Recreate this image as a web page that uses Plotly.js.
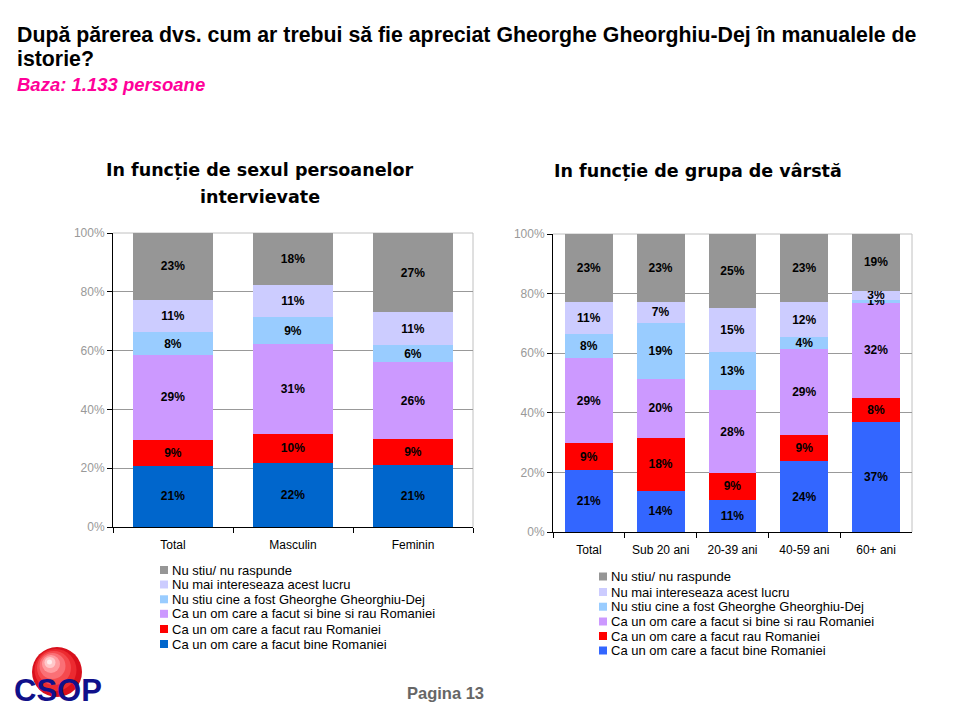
<!DOCTYPE html>
<html>
<head>
<meta charset="utf-8">
<script src="https://cdn.plot.ly/plotly-3.0.1.min.js"></script>
<style>
  html, body { margin: 0; padding: 0; background: #ffffff; }
  #chart { width: 960px; height: 720px; }
</style>
</head>
<body>
<div id="chart"></div>
<script>
// ---------------- DATA ----------------
const leftCategories = ['Total', 'Masculin', 'Feminin'];
const rightCategories = ['Total', 'Sub 20 ani', '20-39 ani', '40-59 ani', '60+ ani'];

const seriesNames = [
  'Ca un om care a facut bine Romaniei',
  'Ca un om care a facut rau Romaniei',
  'Ca un om care a facut si bine si rau Romaniei',
  'Nu stiu cine a fost Gheorghe Gheorghiu-Dej',
  'Nu mai intereseaza acest lucru',
  'Nu stiu/ nu raspunde'
];

// left chart (by sex)
const leftBine          = [21, 22, 21];
const leftRau           = [9, 10, 9];
const leftSiBineSiRau   = [29, 31, 26];
const leftNuStiuCine    = [8, 9, 6];
const leftNuMaiIntereseaza = [11, 11, 11];
const leftNsNr          = [23, 18, 27];

// right chart (by age group)
const rightBine          = [21, 14, 11, 24, 37];
const rightRau           = [9, 18, 9, 9, 8];
const rightSiBineSiRau   = [29, 20, 28, 29, 32];
const rightNuStiuCine    = [8, 19, 13, 4, 1];
const rightNuMaiIntereseaza = [11, 7, 15, 12, 3];
const rightNsNr          = [23, 23, 25, 23, 19];

const yTickValues = [0, 20, 40, 60, 80, 100];
const yTickLabels = ['0%', '20%', '40%', '60%', '80%', '100%'];

const titleLine1 = 'După părerea dvs. cum ar trebui să fie apreciat Gheorghe Gheorghiu-Dej în manualele de';
const titleLine2 = 'istorie?';
const baseText = 'Baza: 1.133 persoane';
const leftTitle1 = 'In funcție de sexul persoanelor';
const leftTitle2 = 'intervievate';
const rightTitle = 'In funcție de grupa de vârstă';
const pageText = 'Pagina 13';
const logoText = 'CSOP';

// ---------------- STYLE ----------------
const leftColors  = ['#0066CC', '#FF0000', '#CC99FF', '#99CCFF', '#CCCCFF', '#969696'];
const rightColors = ['#3366FF', '#FF0000', '#CC99FF', '#99CCFF', '#CCCCFF', '#969696'];
const FONT = 'Liberation Sans, Arial, sans-serif';
const W = 960, H = 720;
const px = x => x / W;
const py = y => 1 - y / H;

const leftSeries  = [leftBine, leftRau, leftSiBineSiRau, leftNuStiuCine, leftNuMaiIntereseaza, leftNsNr];
const rightSeries = [rightBine, rightRau, rightSiBineSiRau, rightNuStiuCine, rightNuMaiIntereseaza, rightNsNr];

function makeTraces(cats, series, colors, xa, ya) {
  return series.map((vals, i) => ({
    type: 'bar',
    name: seriesNames[i],
    x: cats,
    y: vals,
    xaxis: xa,
    yaxis: ya,
    marker: { color: colors[i], line: { width: 0 } },
    text: vals.map(v => v + '%'),
    textposition: 'inside',
    insidetextanchor: 'middle',
    constraintext: 'none',
    textangle: 0,
    textfont: { family: FONT, size: 12, color: '#000000', weight: 'bold' },
    showlegend: false,
    hoverinfo: 'skip',
    cliponaxis: false
  }));
}

const data = [].concat(
  makeTraces(leftCategories, leftSeries, leftColors, 'x', 'y'),
  makeTraces(rightCategories, rightSeries, rightColors, 'x2', 'y2')
);

function xAxis(domain, anchor) {
  return {
    domain: domain, anchor: anchor, type: 'category',
    showline: true, linecolor: '#000000', linewidth: 1,
    ticks: 'outside', tickson: 'boundaries', ticklen: 5, tickcolor: '#000000', tickwidth: 1,
    ticklabelstandoff: 7,
    showgrid: false, zeroline: false,
    tickfont: { family: FONT, size: 12, color: '#000000' },
    fixedrange: true
  };
}
function yAxis(domain, anchor) {
  return {
    domain: domain, anchor: anchor, range: [0, 100],
    tickvals: yTickValues, ticktext: yTickLabels,
    showline: true, linecolor: '#000000', linewidth: 1,
    ticks: 'outside', ticklen: 5, tickcolor: '#000000', tickwidth: 1,
    showgrid: true, gridcolor: '#999999', gridwidth: 1, zeroline: false,
    tickfont: { family: FONT, size: 12, color: '#999999' },
    fixedrange: true
  };
}

const leftDomX = [px(113), px(473)], leftDomY = [py(527), py(233)];
const rightDomX = [px(553), px(912)], rightDomY = [py(532), py(234)];

const annotations = [];
function addText(text, x, y, size, opts) {
  annotations.push(Object.assign({
    text: text, xref: 'paper', yref: 'paper', x: px(x), y: py(y),
    xanchor: 'left', yanchor: 'middle', showarrow: false,
    font: { family: FONT, size: size, color: '#000000' }
  }, opts || {}));
}
addText(titleLine1, 15, 34.5, 21.3, { font: { family: FONT, size: 21.3, color: '#000000', weight: 'bold' } });
addText(titleLine2, 15, 58.5, 21.3, { font: { family: FONT, size: 21.3, color: '#000000', weight: 'bold' } });
addText(baseText, 15, 84, 18.5, { font: { family: FONT, size: 18.5, color: '#FF0099', weight: 'bold', style: 'italic' } });
const subFont = { family: 'DejaVu Sans, Verdana, sans-serif', size: 17.5, color: '#000000', weight: 'bold' };
addText(leftTitle1, 260, 169.7, 17.5, { xanchor: 'center', font: subFont });
addText(leftTitle2, 260, 196.7, 17.5, { xanchor: 'center', font: subFont });
addText(rightTitle, 698, 170.7, 17.5, { xanchor: 'center', font: subFont });
addText(pageText, 445.5, 693, 16.5, { xanchor: 'center', font: { family: FONT, size: 16.5, color: '#666666', weight: 'bold' } });

const shapes = [];
// plot area borders (top/right) in light gray
[[leftDomX, leftDomY], [rightDomX, rightDomY]].forEach(([dx, dy]) => {
  shapes.push({ type: 'line', xref: 'paper', yref: 'paper', x0: dx[0], x1: dx[1], y0: dy[1], y1: dy[1],
    line: { color: '#C0C0C0', width: 1 }, layer: 'between' });
  shapes.push({ type: 'line', xref: 'paper', yref: 'paper', x0: dx[1], x1: dx[1], y0: dy[0], y1: dy[1],
    line: { color: '#C0C0C0', width: 1 }, layer: 'between' });
});

// legends (top to bottom: reverse of stacking order)
const leftLegendRows = [570, 584.5, 599.3, 613.8, 629, 644];
const rightLegendRows = [576.5, 592, 606.7, 621.5, 636, 650.5];
function addLegend(colors, rows, sqX, txtX) {
  for (let k = 0; k < 6; k++) {
    const i = 5 - k;
    const yc = rows[k];
    shapes.push({ type: 'rect', xref: 'paper', yref: 'paper',
      x0: px(sqX), x1: px(sqX + 8), y0: py(yc + 4), y1: py(yc - 4),
      fillcolor: colors[i], line: { width: 0 } });
    addText(seriesNames[i], txtX, yc, 13, { font: { family: FONT, size: 13, color: '#000000' } });
  }
}
addLegend(leftColors, leftLegendRows, 160, 170);
addLegend(rightColors, rightLegendRows, 599, 609);

// logo sphere (layered circles as a simple shading)
const sphere = [
  [57, 672, 25, '#D8101C'],
  [55.5, 670, 21, '#EC2A30'],
  [54, 668, 17, '#F54A4E'],
  [52.5, 666, 13, '#FA7076'],
  [51, 664, 9, '#FF9CA0'],
  [50, 662.5, 5.5, '#FFC8CA'],
  [49.5, 662, 2.5, '#FFEDEE']
];
sphere.forEach(([cx, cy, r, c]) => {
  shapes.push({ type: 'circle', xref: 'paper', yref: 'paper',
    x0: px(cx - r), x1: px(cx + r), y0: py(cy + r), y1: py(cy - r),
    fillcolor: c, line: { width: 0 } });
});
addText(logoText, 58, 690.5, 31, { xanchor: 'center', font: { family: FONT, size: 31, color: '#10108A', weight: 'bold' } });

const layout = {
  width: W, height: H,
  margin: { l: 0, r: 0, t: 0, b: 0, pad: 0 },
  paper_bgcolor: '#ffffff', plot_bgcolor: '#ffffff',
  barmode: 'stack', barnorm: 'percent', bargap: 0.333,
  showlegend: false,
  xaxis: xAxis(leftDomX, 'y'),
  yaxis: yAxis(leftDomY, 'x'),
  xaxis2: xAxis(rightDomX, 'y2'),
  yaxis2: yAxis(rightDomY, 'x2'),
  annotations: annotations,
  shapes: shapes,
  font: { family: FONT }
};

Plotly.newPlot('chart', data, layout, { displayModeBar: false, staticPlot: true });
</script>
</body>
</html>
